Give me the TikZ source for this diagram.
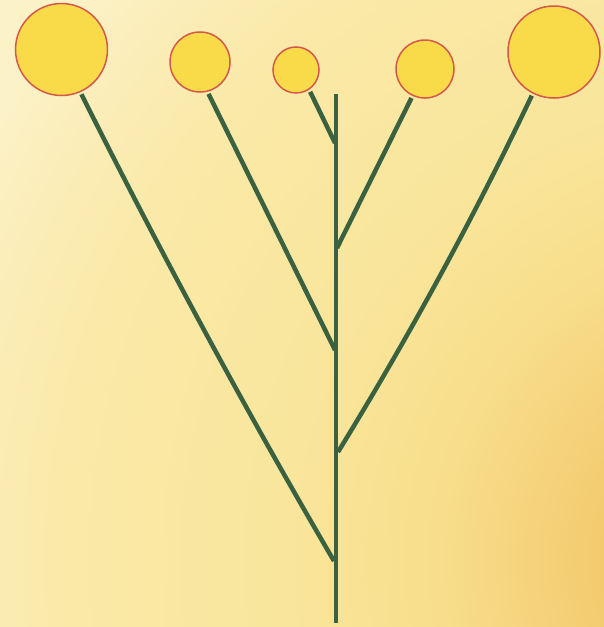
\documentclass[tikz,border=0pt]{standalone}
\usepackage{xcolor}
\usepackage{tikz}
\definecolor{bgpale}{HTML}{FCF2C8}
\definecolor{bglight}{HTML}{FBEDB8}
\definecolor{bgsoft}{HTML}{FAE9A8}
\definecolor{bgmid}{HTML}{F9E69C}
\definecolor{bgwarm}{HTML}{F8DE8C}
\definecolor{bgtan}{HTML}{F5D27B}
\definecolor{bgdeep}{HTML}{F3C86A}
\definecolor{headfill}{HTML}{F9DB4A}
\definecolor{headrim}{HTML}{D4584B}
\definecolor{stemgreen}{HTML}{3A6140}
\pgfdeclareradialshading{meadow}{\pgfpoint{0bp}{0bp}}{%
  color(0bp)=(bgdeep); color(3.5bp)=(bgdeep); color(5.6bp)=(bgtan);
  color(8.2bp)=(bgwarm); color(12bp)=(bgmid); color(17.5bp)=(bgsoft);
  color(20bp)=(bglight); color(22bp)=(bgpale); color(50bp)=(bgpale)}

\begin{document}
\begin{tikzpicture}[x=1pt, y=-1pt,
    head/.style={circle, fill=headfill, draw=headrim, line width=1.5pt,
                 inner sep=0pt, outer sep=3pt},
    stem/.style={draw=stemgreen, line width=4.5pt}]
    % background
    \useasboundingbox (0,0) rectangle (604,627);
    \begin{scope}
      \clip (0,0) rectangle (604,627);
      \shade[shading=meadow] (760,560) circle[radius=1000pt];
    \end{scope}

    % heads
    \node[head, minimum size=92pt] (h1) at (61.5,49.5) {};
    \node[head, minimum size=60pt] (h2) at (200,62) {};
    \node[head, minimum size=46pt] (h3) at (296,70) {};
    \node[head, minimum size=58pt] (h4) at (425,69) {};
    \node[head, minimum size=92pt] (h5) at (554,52) {};

    % trunk and joints
    \coordinate (top) at (336,94);
    \coordinate (root) at (336,623);
    \coordinate (j3) at (335,143);
    \coordinate (j4) at (337,248);
    \coordinate (j2) at (335,350);
    \coordinate (j5) at (338,452);
    \coordinate (j1) at (334,561);

    \draw[stem] (top) -- (root);
    \draw[stem] (h1.-66) .. controls (158.8,248.9) and (242.4,404.5) .. (j1);
    \draw[stem] (h2.-75) -- (j2);
    \draw[stem] (h3.-57) -- (j3);
    \draw[stem] (h4.-115) -- (j4);
    \draw[stem] (h5.-117) .. controls (475.6,213.9) and (411.2,332.8) .. (j5);
  \end{tikzpicture}
\end{document}
